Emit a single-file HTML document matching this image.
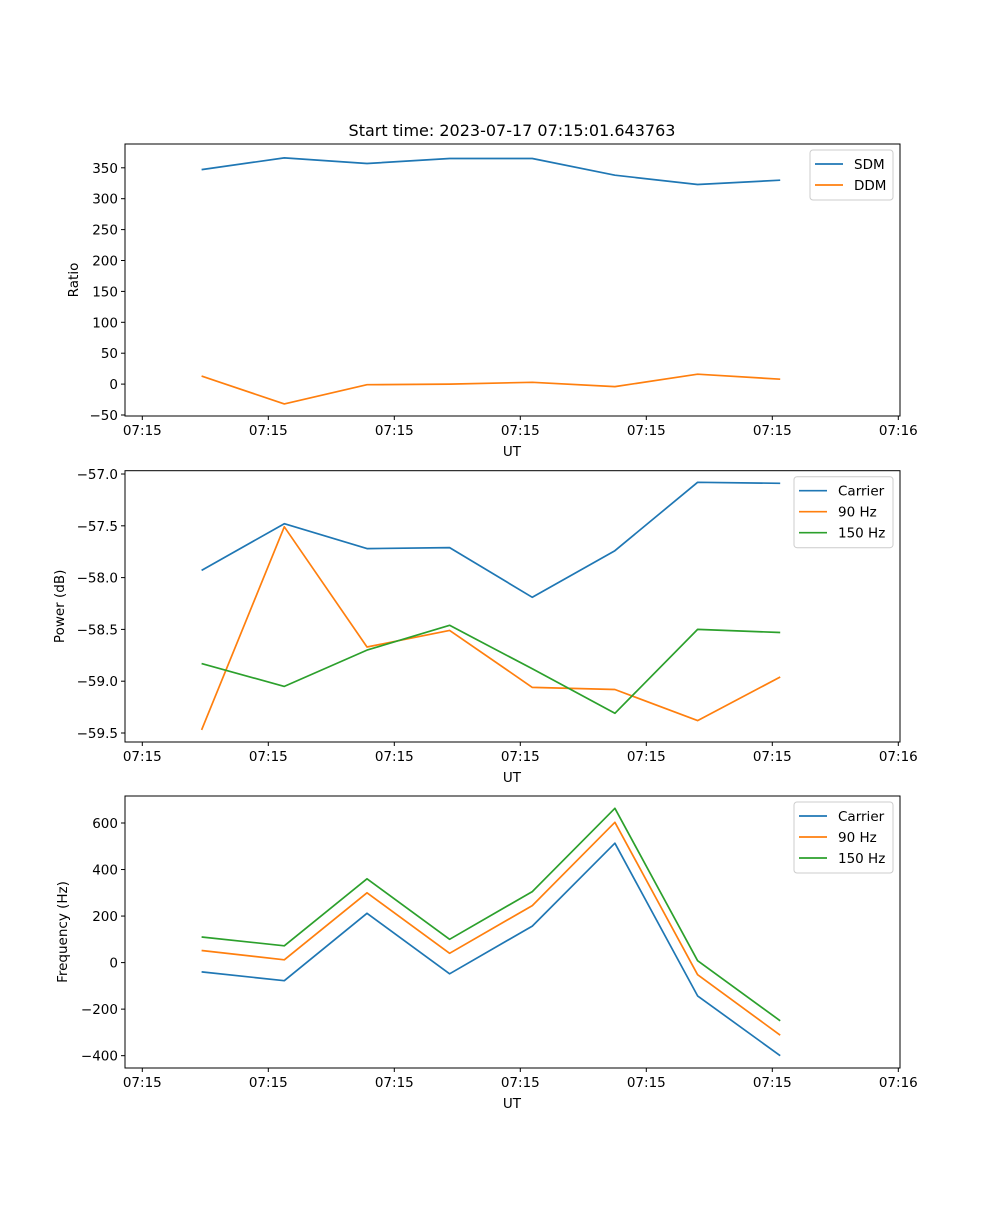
<!DOCTYPE html>
<html><head><meta charset="utf-8"><style>
body{margin:0;background:#fff}
svg text{font-family:"DejaVu Sans","Liberation Sans",sans-serif;font-size:13.5px;fill:#000}
</style></head><body>
<svg id="fig" width="1000" height="1200" xmlns="http://www.w3.org/2000/svg">
<rect width="1000" height="1200" fill="#fff"/>
<text x="512" y="136" text-anchor="middle" style="font-size:16px">Start time: 2023-07-17 07:15:01.643763</text>
</svg>
<script>
const times = [4.71, 11.27, 17.83, 24.39, 30.95, 37.51, 44.07, 50.63];
const xTicks = [0, 10, 20, 30, 40, 50, 60];
const xTickLabels = ["07:15","07:15","07:15","07:15","07:15","07:15","07:16"];
const sdm = [347, 366, 357, 365, 365, 338, 323, 330];
const ddm = [13, -32, -1, 0, 3, -4, 16, 8];
const powCarrier = [-57.93, -57.48, -57.72, -57.71, -58.19, -57.74, -57.08, -57.09];
const pow90 = [-59.47, -57.51, -58.67, -58.51, -59.06, -59.08, -59.38, -58.96];
const pow150 = [-58.83, -59.05, -58.70, -58.46, -58.88, -59.31, -58.50, -58.53];
const freqCarrier = [-40, -78, 212, -48, 157, 513, -143, -400];
const freq90 = [52, 12, 300, 40, 245, 603, -52, -312];
const freq150 = [110, 72, 360, 100, 305, 663, 8, -250];
const ratioTicks = [-50, 0, 50, 100, 150, 200, 250, 300, 350];
const powTicks = [-59.5, -59.0, -58.5, -58.0, -57.5, -57.0];
const freqTicks = [-400, -200, 0, 200, 400, 600];

const NS = "http://www.w3.org/2000/svg";
const svg = document.getElementById('fig');
function mk(tag, attrs, parent){const e=document.createElementNS(NS,tag);for(const k in attrs)e.setAttribute(k,attrs[k]);(parent||svg).appendChild(e);return e;}
const L=125,R=900;
const x = t => 142.3 + 12.6*t;

function panel(id, top, bottom, yTop, yBot, ticks, fmt, ylabel, series, legend){
  const g = mk('g',{});
  
  
  const y = v => bottom - (v - yBot)/(yTop - yBot)*(bottom - top);
  // series
  series.forEach(s=>{
    const p = mk('polyline',{points:s.vals.map((v,i)=>x(times[i]).toFixed(1)+','+y(v).toFixed(1)).join(' '),fill:'none',stroke:s.color,'stroke-width':1.7,'stroke-linejoin':'round'},g);
    
    
  });
  mk('rect',{x:L,y:top,width:R-L,height:bottom-top,fill:'none',stroke:'#000','stroke-width':1},g);
  xTicks.forEach((t,i)=>{
    mk('line',{x1:x(t),x2:x(t),y1:bottom,y2:bottom+4,stroke:'#000'},g);
    const tx = mk('text',{x:x(t),y:bottom+19,'text-anchor':'middle'},g);
    tx.textContent = xTickLabels[i];
    
    
  });
  ticks.forEach(v=>{
    mk('line',{x1:L-4,x2:L,y1:y(v),y2:y(v),stroke:'#000'},g);
    const tx = mk('text',{x:L-7,y:y(v)+5,'text-anchor':'end'},g);
    tx.textContent = fmt(v);
    
    
  });
  const xl = mk('text',{x:512,y:bottom+40,'text-anchor':'middle'},g);
  xl.textContent='UT';
  
  
  const cy=(top+bottom)/2;
  const yl = mk('text',{x:0,y:0,'text-anchor':'middle',transform:`translate(${legend.ylx},${cy}) rotate(-90)`},g);
  yl.textContent=ylabel;
  
  
  // legend
  const lg = mk('g',{},g);
  
  
  mk('rect',{x:legend.x,y:top+6,width:R-7-legend.x,height:series.length*21+8,rx:3,fill:'#fff',stroke:'#ccc'},lg);
  series.forEach((s,i)=>{
    const ly = top+6+14+i*21;
    mk('line',{x1:legend.x+5,x2:legend.x+33,y1:ly,y2:ly,stroke:s.color,'stroke-width':1.7},lg);
    const t = mk('text',{x:legend.x+44,y:ly+5},lg);
    t.textContent=s.label;
    
    
  });
}
const m = '\u2212';
panel('ratio',144,416,388.5,-51.6,ratioTicks,v=>v<0?m+Math.abs(v):String(v),'Ratio',
  [{key:'sdm',label:'SDM',color:'#1f77b4',vals:sdm},{key:'ddm',label:'DDM',color:'#ff7f0e',vals:ddm}],{x:810,ylx:78});
panel('power',470.7,742,-56.968,-59.587,powTicks,v=>m+Math.abs(v).toFixed(1),'Power (dB)',
  [{key:'carrier',label:'Carrier',color:'#1f77b4',vals:powCarrier},{key:'90hz',label:'90 Hz',color:'#ff7f0e',vals:pow90},{key:'150hz',label:'150 Hz',color:'#2ca02c',vals:pow150}],{x:794,ylx:64});
panel('freq',796,1068,716,-453,freqTicks,v=>v<0?m+Math.abs(v):String(v),'Frequency (Hz)',
  [{key:'carrier',label:'Carrier',color:'#1f77b4',vals:freqCarrier},{key:'90hz',label:'90 Hz',color:'#ff7f0e',vals:freq90},{key:'150hz',label:'150 Hz',color:'#2ca02c',vals:freq150}],{x:794,ylx:67});
</script>
</body></html>
